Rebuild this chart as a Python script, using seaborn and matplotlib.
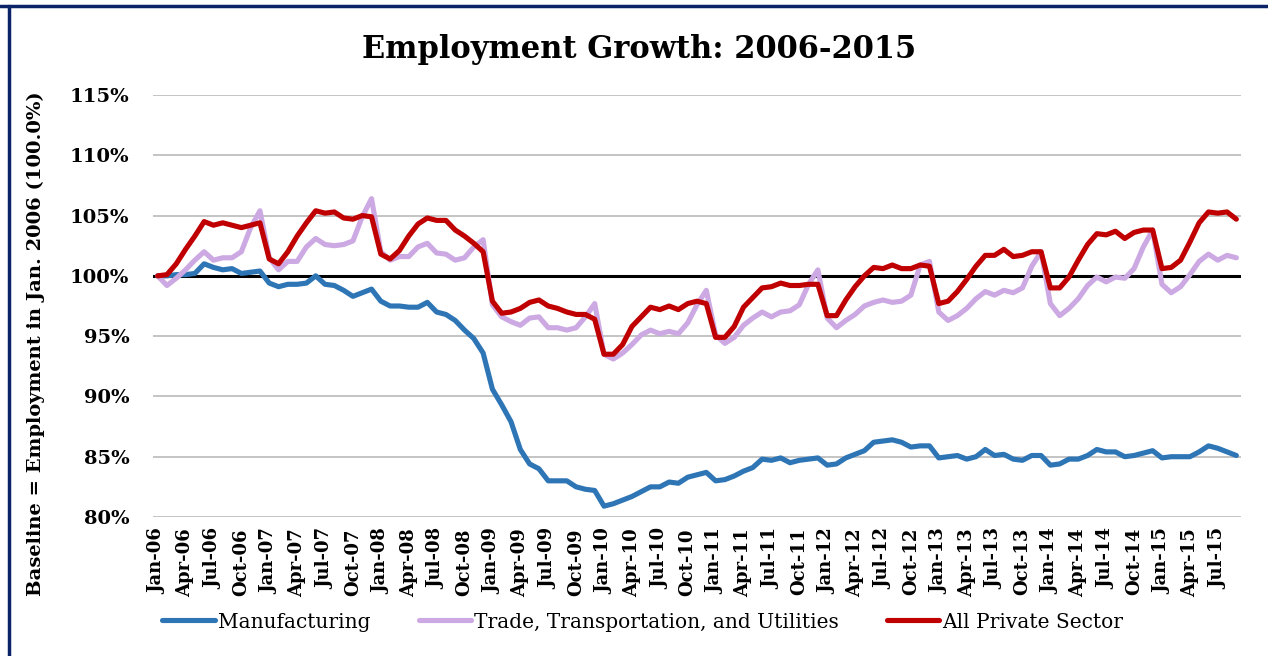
import numpy as np
import pandas as pd
import matplotlib.pyplot as plt
import seaborn as sns

# monthly data, Jan-06 .. Sep-15 (index as % of Jan 2006)
months = pd.date_range('2006-01-01', '2015-09-01', freq='MS')
month_labels = [d.strftime('%b-%y') for d in months]

manufacturing = [
    100.0, 100.0, 100.1, 100.1, 100.2, 101.0, 100.7, 100.5, 100.6, 100.2, 100.3, 100.4,
    99.4, 99.1, 99.3, 99.3, 99.4, 100.0, 99.3, 99.2, 98.8, 98.3, 98.6, 98.9,
    97.9, 97.5, 97.5, 97.4, 97.4, 97.8, 97.0, 96.8, 96.3, 95.5, 94.8, 93.6,
    90.6, 89.3, 87.9, 85.6, 84.4, 84.0, 83.0, 83.0, 83.0, 82.5, 82.3, 82.2,
    80.9, 81.1, 81.4, 81.7, 82.1, 82.5, 82.5, 82.9, 82.8, 83.3, 83.5, 83.7,
    83.0, 83.1, 83.4, 83.8, 84.1, 84.8, 84.7, 84.9, 84.5, 84.7, 84.8, 84.9,
    84.3, 84.4, 84.9, 85.2, 85.5, 86.2, 86.3, 86.4, 86.2, 85.8, 85.9, 85.9,
    84.9, 85.0, 85.1, 84.8, 85.0, 85.6, 85.1, 85.2, 84.8, 84.7, 85.1, 85.1,
    84.3, 84.4, 84.8, 84.8, 85.1, 85.6, 85.4, 85.4, 85.0, 85.1, 85.3, 85.5,
    84.9, 85.0, 85.0, 85.0, 85.4, 85.9, 85.7, 85.4, 85.1,
]
trade = [
    100.0, 99.2, 99.8, 100.5, 101.3, 102.0, 101.3, 101.5, 101.5, 102.0, 104.0, 105.4,
    101.5, 100.5, 101.2, 101.2, 102.4, 103.1, 102.6, 102.5, 102.6, 102.9, 104.9, 106.4,
    102.0, 101.3, 101.6, 101.6, 102.4, 102.7, 101.9, 101.8, 101.3, 101.5, 102.4, 103.0,
    97.6, 96.6, 96.2, 95.9, 96.5, 96.6, 95.7, 95.7, 95.5, 95.7, 96.6, 97.7,
    93.5, 93.1, 93.6, 94.3, 95.1, 95.5, 95.2, 95.4, 95.2, 96.1, 97.6, 98.8,
    95.1, 94.4, 94.9, 95.9, 96.5, 97.0, 96.6, 97.0, 97.1, 97.6, 99.3, 100.5,
    96.5, 95.7, 96.3, 96.8, 97.5, 97.8, 98.0, 97.8, 97.9, 98.4, 100.9, 101.2,
    97.0, 96.3, 96.7, 97.3, 98.1, 98.7, 98.4, 98.8, 98.6, 99.0, 100.8, 102.0,
    97.7, 96.7, 97.3, 98.1, 99.2, 99.9, 99.5, 99.9, 99.8, 100.6, 102.4, 103.8,
    99.3, 98.6, 99.1, 100.1, 101.2, 101.8, 101.3, 101.7, 101.5,
]
private = [
    100.0, 100.1, 101.0, 102.2, 103.3, 104.5, 104.2, 104.4, 104.2, 104.0, 104.2, 104.4,
    101.4, 101.0, 102.0, 103.3, 104.4, 105.4, 105.2, 105.3, 104.8, 104.7, 105.0, 104.9,
    101.8, 101.4, 102.1, 103.3, 104.3, 104.8, 104.6, 104.6, 103.8, 103.3, 102.7, 102.0,
    97.9, 96.9, 97.0, 97.3, 97.8, 98.0, 97.5, 97.3, 97.0, 96.8, 96.8, 96.4,
    93.5, 93.5, 94.3, 95.8, 96.6, 97.4, 97.2, 97.5, 97.2, 97.7, 97.9, 97.7,
    94.9, 94.9, 95.8, 97.4, 98.2, 99.0, 99.1, 99.4, 99.2, 99.2, 99.3, 99.3,
    96.7, 96.7, 98.0, 99.1, 100.0, 100.7, 100.6, 100.9, 100.6, 100.6, 100.9, 100.8,
    97.7, 97.9, 98.7, 99.7, 100.8, 101.7, 101.7, 102.2, 101.6, 101.7, 102.0, 102.0,
    99.0, 99.0, 99.9, 101.3, 102.6, 103.5, 103.4, 103.7, 103.1, 103.6, 103.8, 103.8,
    100.6, 100.7, 101.3, 102.8, 104.4, 105.3, 105.2, 105.3, 104.7,
]

series_names = ['Manufacturing', 'Trade, Transportation, and Utilities', 'All Private Sector']
colors = {'Manufacturing': '#2E75B6',
          'Trade, Transportation, and Utilities': '#CCA9E3',
          'All Private Sector': '#C00000'}

df = pd.DataFrame({'idx': np.arange(len(months)),
                   series_names[0]: manufacturing,
                   series_names[1]: trade,
                   series_names[2]: private})
long_df = df.melt(id_vars='idx', var_name='series', value_name='pct')

sns.set_style('white')
plt.rcParams['font.family'] = ['DejaVu Serif']
plt.rcParams.update({'text.color': 'black', 'xtick.color': 'black',
                     'ytick.color': 'black', 'axes.labelcolor': 'black'})

fig = plt.figure(figsize=(12.68, 6.56), dpi=100)
ax = fig.add_axes([153/1268, 1 - 517/656, 1088/1268, (517-95)/656])

sns.lineplot(data=long_df, x='idx', y='pct', hue='series', hue_order=series_names,
             palette=colors, linewidth=3.7, ax=ax, legend=False)

# 100% baseline
ax.axhline(100, color='black', linewidth=2.2, zorder=1)

ax.set_ylim(80, 115)
ax.set_xlim(-0.5, len(months) - 0.5)
ax.set_yticks(np.arange(80, 116, 5))
ax.set_yticklabels([f'{v}%' for v in range(80, 116, 5)], fontsize=14, fontweight='bold')
ax.yaxis.grid(True, color='#BFBFBF', linewidth=1.3)
ax.set_axisbelow(True)
tick_pos = np.arange(0, len(months), 3)
ax.set_xticks(tick_pos)
ax.set_xticklabels([month_labels[i] for i in tick_pos], rotation=90,
                   fontsize=13, fontweight='bold')
ax.tick_params(axis='y', length=0, pad=17)
ax.tick_params(axis='x', length=0, pad=8)
for s in ax.spines.values():
    s.set_visible(False)
ax.set_xlabel('')
ax.set_ylabel('Baseline = Employment in Jan. 2006 (100.0%)', fontsize=14,
              fontweight='bold')
ax.yaxis.set_label_coords(-0.099, 0.41)

fig.suptitle('Employment Growth: 2006-2015', x=0.504, y=0.948,
             fontsize=22, fontweight='bold')

handles = [plt.Line2D([], [], color=colors[n], linewidth=3.7) for n in series_names]
fig.legend(handles, series_names, loc='center', bbox_to_anchor=(0.507, 1 - 622/656),
           ncol=3, frameon=False, fontsize=14.5, handlelength=2.6, columnspacing=2.4,
           handletextpad=0.15)

# navy frame (top and left edges visible)
fig.add_artist(plt.Line2D([0, 1], [1 - 6/656, 1 - 6/656], color='#0B2468',
                          linewidth=2.5, transform=fig.transFigure))
fig.add_artist(plt.Line2D([8.5/1268, 8.5/1268], [0, 1 - 6/656], color='#0B2468',
                          linewidth=2.5, transform=fig.transFigure))

fig.savefig('out.png', dpi=100)
